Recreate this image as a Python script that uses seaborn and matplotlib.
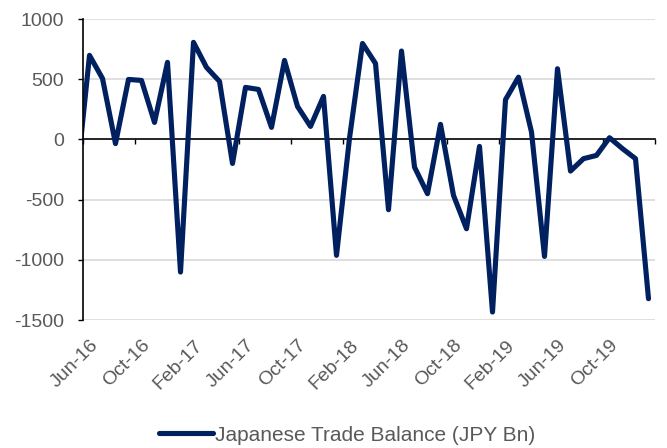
"""
Japanese trade balance, monthly, Jun-16 to Jan-20 (JPY Bn)
"""

import numpy as np
import matplotlib
matplotlib.use('Agg')
import matplotlib.pyplot as plt
import seaborn as sns

# monthly values; May-16 sits just left of the axis and is clipped
months = ['May-16', 'Jun-16', 'Jul-16', 'Aug-16', 'Sep-16', 'Oct-16', 'Nov-16', 'Dec-16',
          'Jan-17', 'Feb-17', 'Mar-17', 'Apr-17', 'May-17', 'Jun-17', 'Jul-17', 'Aug-17',
          'Sep-17', 'Oct-17', 'Nov-17', 'Dec-17', 'Jan-18', 'Feb-18', 'Mar-18', 'Apr-18',
          'May-18', 'Jun-18', 'Jul-18', 'Aug-18', 'Sep-18', 'Oct-18', 'Nov-18', 'Dec-18',
          'Jan-19', 'Feb-19', 'Mar-19', 'Apr-19', 'May-19', 'Jun-19', 'Jul-19', 'Aug-19',
          'Sep-19', 'Oct-19', 'Nov-19', 'Dec-19', 'Jan-20']
trade_balance = [-350, 698, 506, -35, 498, 490, 141, 640,
                 -1102, 806, 598, 482, -200, 432, 415, 100,
                 656, 274, 108, 357, -963, 10, 797, 631,
                 -584, 734, -230, -451, 125, -465, -742, -58,
                 -1434, 330, 517, 61, -972, 587, -263, -160,
                 -133, 14, -77, -160, -1323]
tick_labels = ['Jun-16', 'Oct-16', 'Feb-17', 'Jun-17', 'Oct-17', 'Feb-18',
               'Jun-18', 'Oct-18', 'Feb-19', 'Jun-19', 'Oct-19']
y_ticks = [-1500, -1000, -500, 0, 500, 1000]

NAVY = '#002060'
GREY_TEXT = '#595959'
GRID = '#D9D9D9'

sns.set_style('white')
plt.rcParams['font.family'] = ['Liberation Sans', 'DejaVu Sans']

fig = plt.figure(figsize=(6.67, 4.48), dpi=100)
ax = fig.add_axes([83 / 667, 1 - 320 / 448, (655 - 83) / 667, (320 - 19) / 448])

x = np.arange(len(trade_balance)) - 1  # Jun-16 -> 0
sns.lineplot(x=x, y=trade_balance, ax=ax, color=NAVY, linewidth=3.7,
             label='Japanese Trade Balance (JPY Bn)',
             solid_joinstyle='round', solid_capstyle='round')

ax.set_xlim(-0.5, len(trade_balance) - 1.5)
ax.set_ylim(-1500, 1000)
ax.set_yticks(y_ticks)
ax.set_yticklabels([str(v) for v in y_ticks])
for v in y_ticks:
    if v != 0:
        ax.axhline(v, color=GRID, linewidth=1.2, zorder=0)

# month labels sit under category centres, every 4 months
ax.set_xticks(np.arange(0, 4 * len(tick_labels), 4))
ax.set_xticklabels(tick_labels, rotation=45, ha='right', va='top',
                   rotation_mode='anchor')
ax.tick_params(axis='x', length=0, pad=12, labelsize=14, labelcolor=GREY_TEXT)
ax.tick_params(axis='y', length=3.6, width=1, direction='out', color='black',
               pad=10, labelsize=14, labelcolor=GREY_TEXT, left=True)

for side in ['top', 'right', 'bottom']:
    ax.spines[side].set_visible(False)
ax.spines['left'].set_color('black')
ax.spines['left'].set_linewidth(1.2)

# zero line with tick marks on category boundaries
zero_frac = (0 - (-1500)) / 2500
zero_axis = ax.secondary_xaxis(zero_frac)
zero_axis.set_xticks(np.arange(-0.5, len(trade_balance) - 1, 4))
zero_axis.tick_params(axis='x', which='both', length=3.6, width=1, direction='out',
                      color='black', top=False, bottom=True,
                      labeltop=False, labelbottom=False)
for side in ['top', 'bottom']:
    zero_axis.spines[side].set_color('black')
    zero_axis.spines[side].set_linewidth(1.2)

ax.get_legend().remove()
handles, labels = ax.get_legend_handles_labels()
fig.legend(handles, labels, loc='center', bbox_to_anchor=(0.52, 1 - 435 / 448),
           frameon=False, fontsize=15, handlelength=2.6, handletextpad=0.1,
           labelcolor=GREY_TEXT)

fig.savefig('out.png', dpi=100)
